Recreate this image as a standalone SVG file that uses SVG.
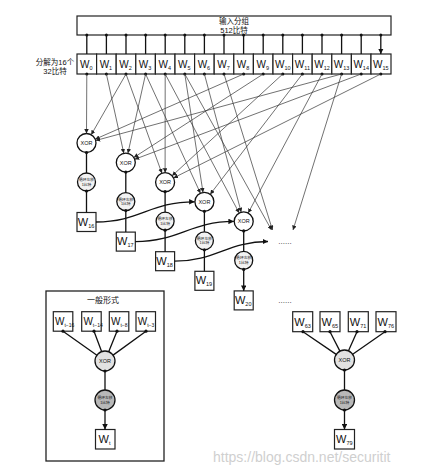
<svg xmlns="http://www.w3.org/2000/svg" width="426" height="468" viewBox="0 0 426 468">
<defs>
<marker id="ah" viewBox="0 0 10 10" refX="10" refY="5" markerWidth="4.5" markerHeight="4.5" markerUnits="userSpaceOnUse" orient="auto"><path d="M0,0 L10,5 L0,10 z" fill="#222"/></marker>
<marker id="ahb" viewBox="0 0 10 10" refX="10" refY="5" markerWidth="5.5" markerHeight="5.5" markerUnits="userSpaceOnUse" orient="auto"><path d="M0,0 L10,5 L0,10 z" fill="#111"/></marker>
</defs>
<style>
text{font-family:"Liberation Sans","Noto Sans CJK SC",sans-serif;fill:#111}
.box{fill:#fff;stroke:#222;stroke-width:1.2}
.xor{fill:#fff;stroke:#111;stroke-width:1.3}
.rot{fill:#f2f2f2;stroke:#111;stroke-width:1.3}
.xorg{fill:#e2e2e2;stroke:#111;stroke-width:1.3}
.rotg{fill:#b8b8b8;stroke:#111;stroke-width:1.3}
.thin{stroke:#333;stroke-width:0.7;fill:none;marker-end:url(#ah)}
.thick{stroke:#111;stroke-width:1.3;fill:none;marker-end:url(#ahb)}
.dot{fill:#111}
.wl{font-size:10px;text-anchor:middle}
.wb{font-size:11px;text-anchor:middle}
.sub{font-size:5.5px}
.xt{font-size:5.5px;text-anchor:middle}
.rt{font-size:3.8px;text-anchor:middle}
.cn{font-size:7.5px;text-anchor:middle}
.dots{font-size:8px;text-anchor:middle;fill:#333}
</style>
<rect width="426" height="468" fill="#fff"/>

<g id="input">
<rect class="box" x="77" y="16" width="314" height="19"/>
<text class="cn" x="234" y="24">输入分组</text>
<text class="cn" x="234" y="32.5">512比特</text>
</g>
<text class="cn" x="55" y="65">分解为16个</text>
<text class="cn" x="55" y="74">32比特</text>

<g id="words">
<g id="w0"><rect class="box" x="77" y="54" width="19.6" height="20"/><text class="wl" x="86.3" y="67.5">W<tspan class="sub" dy="2">0</tspan></text></g>
<g id="w1"><rect class="box" x="96.6" y="54" width="19.6" height="20"/><text class="wl" x="105.9" y="67.5">W<tspan class="sub" dy="2">1</tspan></text></g>
<g id="w2"><rect class="box" x="116.2" y="54" width="19.6" height="20"/><text class="wl" x="125.5" y="67.5">W<tspan class="sub" dy="2">2</tspan></text></g>
<g id="w3"><rect class="box" x="135.8" y="54" width="19.6" height="20"/><text class="wl" x="145.1" y="67.5">W<tspan class="sub" dy="2">3</tspan></text></g>
<g id="w4"><rect class="box" x="155.4" y="54" width="19.6" height="20"/><text class="wl" x="164.7" y="67.5">W<tspan class="sub" dy="2">4</tspan></text></g>
<g id="w5"><rect class="box" x="175" y="54" width="19.6" height="20"/><text class="wl" x="184.3" y="67.5">W<tspan class="sub" dy="2">5</tspan></text></g>
<g id="w6"><rect class="box" x="194.6" y="54" width="19.6" height="20"/><text class="wl" x="203.9" y="67.5">W<tspan class="sub" dy="2">6</tspan></text></g>
<g id="w7"><rect class="box" x="214.2" y="54" width="19.6" height="20"/><text class="wl" x="223.5" y="67.5">W<tspan class="sub" dy="2">7</tspan></text></g>
<g id="w8"><rect class="box" x="233.8" y="54" width="19.6" height="20"/><text class="wl" x="243.1" y="67.5">W<tspan class="sub" dy="2">8</tspan></text></g>
<g id="w9"><rect class="box" x="253.4" y="54" width="19.6" height="20"/><text class="wl" x="262.7" y="67.5">W<tspan class="sub" dy="2">9</tspan></text></g>
<g id="w10"><rect class="box" x="273" y="54" width="19.6" height="20"/><text class="wl" x="282.8" y="67.5">W<tspan class="sub" dy="2">10</tspan></text></g>
<g id="w11"><rect class="box" x="292.6" y="54" width="19.6" height="20"/><text class="wl" x="302.4" y="67.5">W<tspan class="sub" dy="2">11</tspan></text></g>
<g id="w12"><rect class="box" x="312.2" y="54" width="19.6" height="20"/><text class="wl" x="322" y="67.5">W<tspan class="sub" dy="2">12</tspan></text></g>
<g id="w13"><rect class="box" x="331.8" y="54" width="19.6" height="20"/><text class="wl" x="341.6" y="67.5">W<tspan class="sub" dy="2">13</tspan></text></g>
<g id="w14"><rect class="box" x="351.4" y="54" width="19.6" height="20"/><text class="wl" x="361.2" y="67.5">W<tspan class="sub" dy="2">14</tspan></text></g>
<g id="w15"><rect class="box" x="371" y="54" width="20" height="20"/><text class="wl" x="380.8" y="67.5">W<tspan class="sub" dy="2">15</tspan></text></g>
</g>

<g id="col16">
<circle class="xor" cx="86.5" cy="143" r="9.5"/><text class="xt" x="86.5" y="145">XOR</text>
<circle class="rot" cx="86.5" cy="182" r="9"/><text class="rt" x="86.5" y="181">循环左移</text><text class="rt" x="86.5" y="185.5">1比特</text>
<rect class="box" x="77" y="212.5" width="19" height="19"/><text class="wb" x="86" y="225.5">W<tspan class="sub" dy="2">16</tspan></text>
</g>
<g id="col17">
<circle class="xor" cx="125.8" cy="162.6" r="9.5"/><text class="xt" x="125.8" y="164.6">XOR</text>
<circle class="rot" cx="125.8" cy="201.6" r="9"/><text class="rt" x="125.8" y="200.6">循环左移</text><text class="rt" x="125.8" y="205.1">1比特</text>
<rect class="box" x="116.3" y="232.1" width="19" height="19"/><text class="wb" x="125.3" y="245.1">W<tspan class="sub" dy="2">17</tspan></text>
</g>
<g id="col18">
<circle class="xor" cx="165.1" cy="182.2" r="9.5"/><text class="xt" x="165.1" y="184.2">XOR</text>
<circle class="rot" cx="165.1" cy="221.2" r="9"/><text class="rt" x="165.1" y="220.2">循环左移</text><text class="rt" x="165.1" y="224.7">1比特</text>
<rect class="box" x="155.6" y="251.7" width="19" height="19"/><text class="wb" x="164.6" y="264.7">W<tspan class="sub" dy="2">18</tspan></text>
</g>
<g id="col19">
<circle class="xor" cx="204.4" cy="201.8" r="9.5"/><text class="xt" x="204.4" y="203.8">XOR</text>
<circle class="rot" cx="204.4" cy="240.8" r="9"/><text class="rt" x="204.4" y="239.8">循环左移</text><text class="rt" x="204.4" y="244.3">1比特</text>
<rect class="box" x="194.9" y="271.3" width="19" height="19"/><text class="wb" x="203.9" y="284.3">W<tspan class="sub" dy="2">19</tspan></text>
</g>
<g id="col20">
<circle class="xor" cx="243.7" cy="221.4" r="9.5"/><text class="xt" x="243.7" y="223.4">XOR</text>
<circle class="rot" cx="243.7" cy="260.4" r="9"/><text class="rt" x="243.7" y="259.4">循环左移</text><text class="rt" x="243.7" y="263.9">1比特</text>
<rect class="box" x="234.2" y="290.9" width="19" height="19"/><text class="wb" x="243.2" y="303.9">W<tspan class="sub" dy="2">20</tspan></text>
</g>
<text class="dots" x="285" y="244">......</text>
<text class="dots" x="285" y="303">......</text>

<g id="general">
<rect fill="none" stroke="#222" stroke-width="1.3" x="46" y="291" width="118" height="170"/>
<text class="cn" x="103" y="303" style="font-size:8px">一般形式</text>
<rect class="box" x="53.3" y="311.7" width="19.5" height="19.5"/><text x="55" y="325" style="font-size:10px">W<tspan style="font-size:5px" dy="2">t−16</tspan></text>
<rect class="box" x="81.7" y="311.7" width="19.5" height="19.5"/><text x="83.4" y="325" style="font-size:10px">W<tspan style="font-size:5px" dy="2">t−14</tspan></text>
<rect class="box" x="109.3" y="311.7" width="19.5" height="19.5"/><text x="111" y="325" style="font-size:10px">W<tspan style="font-size:5px" dy="2">t−8</tspan></text>
<rect class="box" x="136" y="311.7" width="19.5" height="19.5"/><text x="137.7" y="325" style="font-size:10px">W<tspan style="font-size:5px" dy="2">t−3</tspan></text>
<circle class="xorg" cx="105" cy="361" r="10"/><text class="xt" x="105" y="363">XOR</text>
<circle class="rotg" cx="105" cy="400" r="10"/><text class="rt" x="105" y="399">循环左移</text><text class="rt" x="105" y="403.5">1比特</text>
<rect class="box" x="95.5" y="429.5" width="19.5" height="19.5"/><text class="wb" x="104.5" y="443">W<tspan class="sub" dy="2">t</tspan></text>
</g>

<g id="w79group">
<rect class="box" x="292.7" y="311.7" width="20" height="20"/><text class="wb" x="302.5" y="325.5">W<tspan class="sub" dy="2">63</tspan></text>
<rect class="box" x="320" y="311.7" width="20" height="20"/><text class="wb" x="329.8" y="325.5">W<tspan class="sub" dy="2">65</tspan></text>
<rect class="box" x="348.3" y="311.7" width="20" height="20"/><text class="wb" x="358.1" y="325.5">W<tspan class="sub" dy="2">71</tspan></text>
<rect class="box" x="376" y="311.7" width="20" height="20"/><text class="wb" x="385.8" y="325.5">W<tspan class="sub" dy="2">76</tspan></text>
<circle class="xorg" cx="344.5" cy="360" r="10"/><text class="xt" x="344.5" y="362">XOR</text>
<circle class="rotg" cx="344.5" cy="400" r="10"/><text class="rt" x="344.5" y="399">循环左移</text><text class="rt" x="344.5" y="403.5">1比特</text>
<rect class="box" x="334.5" y="429.5" width="20" height="19.5"/><text class="wb" x="344.3" y="443">W<tspan class="sub" dy="2">79</tspan></text>
</g>

<g id="connectors">
<g class="dot">
<circle cx="86.8" cy="35" r="1.5"/><circle cx="106.4" cy="35" r="1.5"/><circle cx="126" cy="35" r="1.5"/><circle cx="145.6" cy="35" r="1.5"/><circle cx="165.2" cy="35" r="1.5"/><circle cx="184.8" cy="35" r="1.5"/><circle cx="204.4" cy="35" r="1.5"/><circle cx="224" cy="35" r="1.5"/><circle cx="243.6" cy="35" r="1.5"/><circle cx="263.2" cy="35" r="1.5"/><circle cx="282.8" cy="35" r="1.5"/><circle cx="302.4" cy="35" r="1.5"/><circle cx="322" cy="35" r="1.5"/><circle cx="341.6" cy="35" r="1.5"/><circle cx="361.2" cy="35" r="1.5"/><circle cx="380.8" cy="35" r="1.5"/>
<circle cx="86.8" cy="74" r="1.5"/><circle cx="106.4" cy="74" r="1.5"/><circle cx="126" cy="74" r="1.5"/><circle cx="145.6" cy="74" r="1.5"/><circle cx="165.2" cy="74" r="1.5"/><circle cx="184.8" cy="74" r="1.5"/><circle cx="204.4" cy="74" r="1.5"/><circle cx="224" cy="74" r="1.5"/><circle cx="243.6" cy="74" r="1.5"/><circle cx="263.2" cy="74" r="1.5"/><circle cx="282.8" cy="74" r="1.5"/><circle cx="302.4" cy="74" r="1.5"/><circle cx="322" cy="74" r="1.5"/><circle cx="341.6" cy="74" r="1.5"/><circle cx="361.2" cy="74" r="1.5"/><circle cx="380.8" cy="74" r="1.5"/>
</g>
<path class="thick" d="M86.8,35V54M106.4,35V54M126,35V54M145.6,35V54M165.2,35V54M184.8,35V54M204.4,35V54M224,35V54M243.6,35V54M263.2,35V54M282.8,35V54M302.4,35V54M322,35V54M341.6,35V54M361.2,35V54M380.8,35V54"/>
<line class="thin" x1="86.8" y1="74" x2="86.5" y2="133.5"/>
<line class="thin" x1="126" y1="74" x2="91.2" y2="134.8"/>
<line class="thin" x1="243.6" y1="74" x2="95.2" y2="139.2"/>
<line class="thin" x1="341.6" y1="74" x2="95.7" y2="140.5"/>
<line class="thin" x1="106.4" y1="74" x2="123.8" y2="153.3"/>
<line class="thin" x1="145.6" y1="74" x2="127.9" y2="153.3"/>
<line class="thin" x1="263.2" y1="74" x2="133.8" y2="157.5"/>
<line class="thin" x1="361.2" y1="74" x2="134.7" y2="159.3"/>
<line class="thin" x1="126" y1="74" x2="161.9" y2="173.3"/>
<line class="thin" x1="165.2" y1="74" x2="165.1" y2="172.7"/>
<line class="thin" x1="282.8" y1="74" x2="172.1" y2="175.8"/>
<line class="thin" x1="380.8" y1="74" x2="173.6" y2="177.9"/>
<line class="thin" x1="145.6" y1="74" x2="200.4" y2="193.2"/>
<line class="thin" x1="184.8" y1="74" x2="203" y2="192.4"/>
<line class="thin" x1="302.4" y1="74" x2="210.2" y2="194.3"/>
<line class="thin" x1="165.2" y1="74" x2="239.2" y2="213"/>
<line class="thin" x1="204.4" y1="74" x2="241.2" y2="212.2"/>
<line class="thin" x1="322" y1="74" x2="248.2" y2="213"/>
<line class="thin" x1="184.8" y1="74" x2="271.5" y2="230"/>
<line class="thin" x1="224" y1="74" x2="272.5" y2="230"/>
<line class="thin" x1="341.6" y1="74" x2="293" y2="230"/>
<g class="dot">
<circle cx="86.5" cy="152.5" r="1.6"/><circle cx="86.5" cy="191" r="1.6"/>
<circle cx="125.8" cy="172.1" r="1.6"/><circle cx="125.8" cy="210.6" r="1.6"/>
<circle cx="165.1" cy="191.7" r="1.6"/><circle cx="165.1" cy="230.2" r="1.6"/>
<circle cx="204.4" cy="211.3" r="1.6"/><circle cx="204.4" cy="249.8" r="1.6"/>
<circle cx="243.7" cy="230.9" r="1.6"/><circle cx="243.7" cy="269.4" r="1.6"/>
</g>
<path class="thick" d="M86.5,152.5V173M86.5,191V212.5M125.8,172.1V192.6M125.8,210.6V232.1M165.1,191.7V212.2M165.1,230.2V251.7M204.4,211.3V231.8M204.4,249.8V271.3M243.7,230.9V251.4M243.7,269.4V290.9"/>
<path class="thick" d="M96,222 C140,222 150,201.8 194.6,201.8"/>
<path class="thick" d="M135.3,241.6 C179,241.6 190,221.4 233.9,221.4"/>
<path class="thick" d="M174.6,261.2 C215,261.2 228,241.5 268,241.5"/>
<g class="dot">
<circle cx="63" cy="331.2" r="1.6"/><circle cx="94" cy="331.2" r="1.6"/><circle cx="117" cy="331.2" r="1.6"/><circle cx="146" cy="331.2" r="1.6"/>
<circle cx="105" cy="371" r="1.6"/><circle cx="105" cy="410" r="1.6"/>
</g>
<path class="thick" d="M63,331.2L96.9,355.2M94,331.2L101.6,351.6M117,331.2L108.7,351.7M146,331.2L113.1,355.1M105,371V390M105,410V429.5"/>
<g class="dot">
<circle cx="303" cy="331.7" r="1.6"/><circle cx="330" cy="331.7" r="1.6"/><circle cx="357" cy="331.7" r="1.6"/><circle cx="385" cy="331.7" r="1.6"/>
<circle cx="344.5" cy="370" r="1.6"/><circle cx="344.5" cy="410" r="1.6"/>
</g>
<path class="thick" d="M303,331.7L336.2,354.4M330,331.7L339.9,351.1M357,331.7L348.5,350.8M385,331.7L352.7,354.3M344.5,370V390M344.5,410V429.5"/>
</g>

<text x="213" y="462" style="font-size:14px;fill:#cfcfcf">https://blog.csdn.net/securitit</text>
</svg>
